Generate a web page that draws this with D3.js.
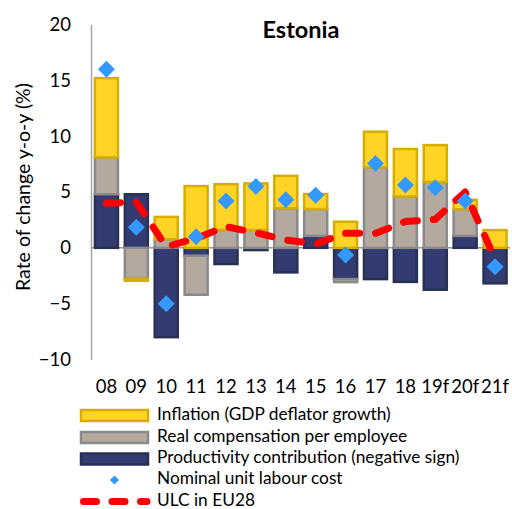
<!DOCTYPE html>
<html>
<head>
<meta charset="utf-8">
<script src="https://cdn.jsdelivr.net/npm/d3@7"></script>
<style>
  html, body { margin: 0; padding: 0; background: #fff; }
  svg { display: block; font-family: Lato, "Open Sans", sans-serif; }
</style>
</head>
<body>
<svg id="chart" width="512" height="509"></svg>
<script>
// Estonia: decomposition of nominal unit labour cost growth (y-o-y, %)
const categories   = ["08","09","10","11","12","13","14","15","16","17","18","19f","20f","21f"];
const productivity = [4.8, 4.8, -8.0, -0.7, -1.45, -0.2, -2.2, 1.07, -2.8, -2.8, -3.05, -3.75, 1.06, -3.18];
const realComp     = [3.3, -2.77, 0.77, -3.5, 1.6, 1.6, 3.55, 2.4, -0.27, 7.2, 4.6, 5.9, 2.4, 0];
const inflation    = [7.1, -0.18, 2.0, 5.53, 4.1, 4.17, 2.9, 1.35, 2.34, 3.2, 4.25, 3.3, 0.84, 1.59];
const nulc         = [16.0, 1.85, -5.0, 1.0, 4.2, 5.5, 4.3, 4.7, -0.65, 7.55, 5.62, 5.38, 4.2, -1.7];
const ulcEU28      = [4.0, 4.1, 0.1, 0.85, 1.9, 1.35, 0.7, 0.35, 1.3, 1.3, 2.35, 2.55, 5.0, -1.0];
const yTicks       = [-10, -5, 0, 5, 10, 15, 20];

const seriesKeys = ["productivity", "realComp", "inflation"];
const seriesNames = {
  inflation: "Inflation (GDP deflator growth)",
  realComp: "Real compensation per employee",
  productivity: "Productivity contribution (negative sign)"
};
const fills   = { inflation: "#FFD426", realComp: "#B3A99F", productivity: "#343B70" };
const strokes = { inflation: "#D6AE00", realComp: "#8A8A8A", productivity: "#283154" };

const rows = categories.map((c, i) => ({
  cat: c,
  productivity: productivity[i],
  realComp: realComp[i],
  inflation: inflation[i]
}));

const svg = d3.select("#chart");

const x = d3.scaleBand()
  .domain(categories)
  .range([91.5, 510])
  .paddingInner(0.23)
  .paddingOuter(0.115);

const y = d3.scaleLinear().domain([-10, 20]).range([359.5, 24.5]);

// Title
svg.append("text")
  .attr("x", 301).attr("y", 38)
  .attr("text-anchor", "middle")
  .attr("font-weight", "bold")
  .attr("font-size", 23.5)
  .attr("fill", "#000")
  .text("Estonia");

// Y axis title
svg.append("text")
  .attr("transform", "translate(25,187) rotate(-90)")
  .attr("text-anchor", "middle")
  .attr("dominant-baseline", "middle")
  .attr("font-size", 19.5)
  .attr("fill", "#000")
  .text("Rate of change y-o-y (%)");

// Y axis: line and tick labels
const yAxis = d3.axisLeft(y).tickValues(yTicks).tickSize(0).tickPadding(20);
const yG = svg.append("g").attr("transform", "translate(91,0)").call(yAxis);
yG.select(".domain").attr("stroke", "#A6A6A6").attr("stroke-width", 1.5);
yG.selectAll("text").attr("font-size", 18.5).attr("fill", "#000")
  .attr("font-family", "Lato, sans-serif");

// Zero line
svg.append("line")
  .attr("x1", 91).attr("x2", 510)
  .attr("y1", y(0)).attr("y2", y(0))
  .attr("stroke", "#9A9A9A").attr("stroke-width", 1.5);

// Stacked bars (positives up, negatives down)
const stacked = d3.stack().keys(seriesKeys).offset(d3.stackOffsetDiverging)(rows);
svg.append("g").selectAll("g")
  .data(stacked)
  .join("g")
  .attr("fill", s => fills[s.key])
  .attr("stroke", s => strokes[s.key])
  .attr("stroke-width", 2.5)
  .selectAll("rect")
  .data(s => s.filter(d => Math.abs(d[1] - d[0]) > 1e-9))
  .join("rect")
  .attr("x", d => x(d.data.cat))
  .attr("width", x.bandwidth())
  .attr("y", d => y(Math.max(d[0], d[1])))
  .attr("height", d => Math.abs(y(d[0]) - y(d[1])));

// EU28 ULC line
const line = d3.line()
  .x((d, i) => x(categories[i]) + x.bandwidth() / 2)
  .y(d => y(d));
svg.append("path")
  .datum(ulcEU28)
  .attr("d", line)
  .attr("fill", "none")
  .attr("stroke", "#FF0000")
  .attr("stroke-width", 7)
  .attr("stroke-linecap", "round")
  .attr("stroke-linejoin", "round")
  .attr("stroke-dasharray", "14,16");

// Nominal ULC diamonds
const diamond = d3.symbol().type(d3.symbolSquare).size(144);
svg.append("g").selectAll("path")
  .data(nulc)
  .join("path")
  .attr("d", diamond)
  .attr("transform", (d, i) =>
    `translate(${x(categories[i]) + x.bandwidth() / 2},${y(d)}) rotate(45)`)
  .attr("fill", "#3399FF");

// Category labels
svg.append("g").selectAll("text")
  .data(categories)
  .join("text")
  .attr("x", d => x(d) + x.bandwidth() / 2)
  .attr("y", 388)
  .attr("text-anchor", "middle")
  .attr("dominant-baseline", "middle")
  .attr("font-size", 18.5)
  .attr("fill", "#000")
  .text(d => d);

// Legend
const legendRows = [
  { type: "bar", key: "inflation", yc: 415.5 },
  { type: "bar", key: "realComp", yc: 437.5 },
  { type: "bar", key: "productivity", yc: 459 },
  { type: "diamond", label: "Nominal unit labour cost", yc: 480 },
  { type: "line", label: "ULC in EU28", yc: 501.5 }
];
const lg = svg.append("g");
legendRows.forEach(r => {
  if (r.type === "bar") {
    lg.append("rect")
      .attr("x", 81).attr("y", r.yc - 5.5)
      .attr("width", 67).attr("height", 11)
      .attr("fill", fills[r.key]).attr("stroke", strokes[r.key]).attr("stroke-width", 2.5);
  } else if (r.type === "diamond") {
    lg.append("path")
      .attr("d", d3.symbol().type(d3.symbolSquare).size(42)())
      .attr("transform", `translate(114.5,${r.yc}) rotate(45)`)
      .attr("fill", "#3399FF");
  } else {
    lg.append("line")
      .attr("x1", 83.5).attr("x2", 147)
      .attr("y1", r.yc).attr("y2", r.yc)
      .attr("stroke", "#FF0000").attr("stroke-width", 7)
      .attr("stroke-linecap", "round")
      .attr("stroke-dasharray", "13,15.5");
  }
  lg.append("text")
    .attr("x", 157).attr("y", r.yc)
    .attr("dominant-baseline", "middle")
    .attr("font-size", 17.3)
    .attr("fill", "#000")
    .text(r.type === "bar" ? seriesNames[r.key] : r.label);
});
</script>
</body>
</html>
